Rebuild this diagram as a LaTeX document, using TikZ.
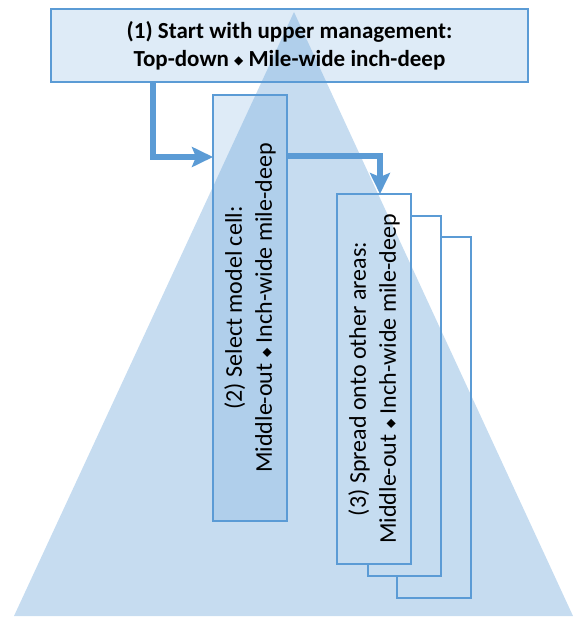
\documentclass[tikz,border=0pt]{standalone}
\usepackage{fontspec}
\setmainfont{Carlito}
\newfontfamily\symfont{DejaVu Sans}
\usetikzlibrary{arrows.meta}
\definecolor{accent}{HTML}{5B9BD5}
\definecolor{lightfill}{HTML}{DEEBF7}
\newcommand{\dia}{{\symfont\fontsize{12}{12}\selectfont\raisebox{1.5pt}{◆}}}
\tikzset{
  boxshape/.style={draw=accent, line width=1.1pt, inner sep=0pt, outer sep=0pt},
  boxtext/.style={inner sep=0pt, align=center, font=\fontsize{23}{28}\selectfont, text=black},
  flowarrow/.style={draw=accent, line width=5.5pt, line join=miter,
    -{Stealth[length=21pt, width=20pt, inset=4pt]}}
}
\begin{document}
\begin{tikzpicture}[x=1pt, y=-1pt]
\useasboundingbox (0,0) rectangle (574,618);
% boxes (fills and frames)
\node[boxshape, fill=lightfill, minimum width=477pt, minimum height=73pt] (b1) at (289.5,45.5) {};
\node[boxshape, fill=lightfill, minimum width=74pt, minimum height=426pt] (b2) at (250,308) {};
\node[boxshape, fill=white, minimum width=74pt, minimum height=361pt] (b3c) at (434,417.5) {};
\node[boxshape, fill=white, minimum width=73pt, minimum height=360pt] (b3b) at (404.5,396) {};
\node[boxshape, fill=white, minimum width=74pt, minimum height=370pt] (b3) at (374,379) {};
% pyramid
\fill[accent, opacity=0.35] (294,12) -- (573,616) -- (14,616) -- cycle;
% texts
\node[boxtext, font=\bfseries\fontsize{23}{28}\selectfont] (t1) at (b1.center) {(1) Start with upper management:\\Top-down \dia\ Mile-wide inch-deep};
\node[boxtext, rotate=90, font=\fontsize{24}{30}\selectfont] (t2) at (b2.center) {(2) Select model cell:\\Middle-out \dia\ Inch-wide mile-deep};
\node[boxtext, rotate=90, font=\fontsize{24}{30}\selectfont] (t3) at (b3.center) {(3) Spread onto other areas:\\Middle-out \dia\ Inch-wide mile-deep};
% connectors
\draw[flowarrow] ([xshift=102pt]b1.south west) |- ([yshift=-62pt]b2.north west);
\draw[flowarrow] ([yshift=-61pt]b2.north east) -| ([xshift=43pt]b3.north west);
\end{tikzpicture}
\end{document}
